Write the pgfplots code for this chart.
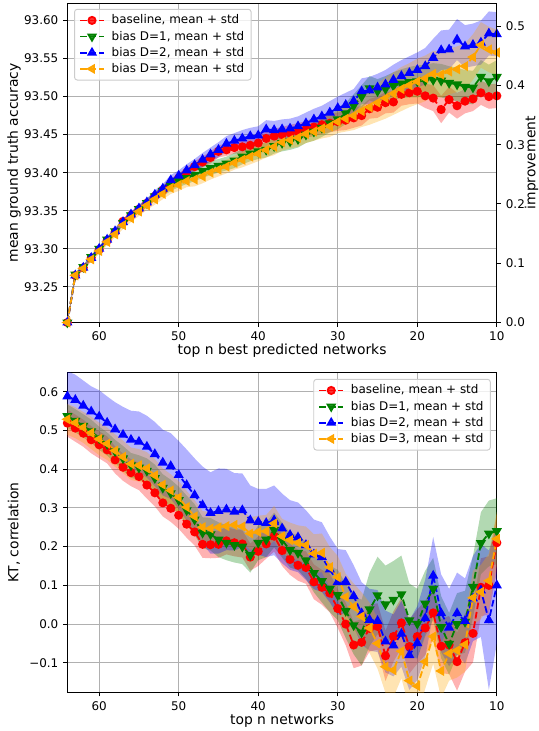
\documentclass[border=0pt]{standalone}
\usepackage{fontspec}
\setmainfont{DejaVu Sans}
\usepackage{pgfplots}
\pgfplotsset{compat=1.18}
\usepackage{pgfplotstable}
\usepgfplotslibrary{fillbetween}

\definecolor{mplorange}{HTML}{FFA500}
\definecolor{mplgreen}{HTML}{008000}
\definecolor{mplred}{HTML}{FF0000}
\definecolor{mplblue}{HTML}{0000FF}
\definecolor{gridgray}{HTML}{B0B0B0}
\definecolor{legedge}{HTML}{CCCCCC}

% x r rs g gs b bs o os  (mean and std of each series)
\pgfplotstableread{
x r rs g gs b bs o os
64 93.203 .003 93.203 .003 93.203 .003 93.203 .003
63 93.265 .003 93.266 .003 93.265 .003 93.265 .003
62 93.275 .003 93.276 .003 93.275 .003 93.274 .003
61 93.288 .003 93.289 .003 93.288 .003 93.286 .003
60 93.299 .003 93.300 .003 93.300 .003 93.297 .004
59 93.311 .004 93.312 .004 93.312 .004 93.309 .004
58 93.322 .004 93.323 .004 93.323 .004 93.319 .004
57 93.336 .004 93.334 .004 93.335 .004 93.331 .005
56 93.344 .004 93.344 .004 93.345 .004 93.340 .005
55 93.352 .005 93.352 .005 93.353 .005 93.349 .006
54 93.360 .005 93.360 .006 93.361 .005 93.357 .006
53 93.369 .005 93.369 .006 93.371 .006 93.365 .007
52 93.377 .006 93.376 .007 93.379 .006 93.372 .007
51 93.386 .006 93.383 .007 93.390 .007 93.380 .008
50 93.393 .006 93.389 .008 93.396 .007 93.384 .008
49 93.400 .007 93.393 .008 93.403 .008 93.389 .008
48 93.408 .007 93.397 .008 93.410 .008 93.391 .009
47 93.414 .007 93.402 .009 93.417 .009 93.395 .009
46 93.420 .008 93.406 .009 93.424 .009 93.400 .009
45 93.428 .008 93.409 .009 93.430 .010 93.404 .009
44 93.430 .008 93.412 .009 93.438 .010 93.408 .009
43 93.433 .008 93.416 .010 93.442 .010 93.413 .009
42 93.434 .009 93.421 .010 93.445 .011 93.417 .010
41 93.436 .009 93.425 .010 93.448 .011 93.421 .010
40 93.439 .009 93.428 .010 93.449 .012 93.425 .010
39 93.445 .010 93.430 .010 93.457 .012 93.430 .010
38 93.448 .010 93.435 .010 93.456 .012 93.434 .011
37 93.450 .010 93.439 .011 93.457 .013 93.440 .011
36 93.452 .011 93.441 .011 93.458 .013 93.443 .011
35 93.454 .011 93.444 .011 93.461 .013 93.446 .012
34 93.457 .011 93.450 .011 93.465 .014 93.451 .012
33 93.460 .012 93.454 .012 93.470 .014 93.454 .012
32 93.463 .012 93.459 .012 93.474 .014 93.458 .013
31 93.465 .012 93.465 .012 93.479 .015 93.461 .014
30 93.467 .012 93.470 .013 93.485 .015 93.467 .015
29 93.469 .013 93.478 .014 93.489 .016 93.471 .017
28 93.472 .013 93.488 .015 93.494 .016 93.475 .019
27 93.475 .013 93.500 .015 93.507 .017 93.481 .021
26 93.484 .013 93.511 .016 93.508 .018 93.486 .023
25 93.486 .014 93.507 .016 93.512 .018 93.492 .025
24 93.492 .014 93.510 .017 93.516 .019 93.498 .027
23 93.493 .014 93.514 .018 93.522 .020 93.504 .028
22 93.503 .015 93.517 .019 93.527 .021 93.510 .029
21 93.505 .015 93.519 .020 93.531 .022 93.515 .029
20 93.507 .016 93.520 .021 93.535 .023 93.520 .030
19 93.501 .016 93.521 .021 93.540 .024 93.524 .030
18 93.498 .017 93.522 .022 93.551 .025 93.530 .030
17 93.483 .018 93.521 .022 93.561 .026 93.529 .030
16 93.496 .017 93.518 .022 93.562 .026 93.533 .030
15 93.488 .017 93.516 .022 93.575 .027 93.536 .030
14 93.494 .016 93.513 .022 93.566 .028 93.540 .030
13 93.497 .016 93.512 .022 93.568 .028 93.552 .030
12 93.505 .016 93.526 .022 93.571 .029 93.568 .030
11 93.500 .016 93.520 .022 93.583 .029 93.562 .030
10 93.501 .016 93.526 .022 93.582 .029 93.558 .030
}\topdata

\pgfplotstableread{
x r rs g gs b bs o os
64 0.519 .035 0.537 .030 0.588 .065 0.529 .040
63 0.506 .035 0.525 .030 0.579 .065 0.520 .040
62 0.493 .035 0.512 .030 0.564 .065 0.508 .040
61 0.476 .035 0.498 .030 0.549 .065 0.494 .042
60 0.463 .035 0.480 .030 0.536 .068 0.478 .042
59 0.450 .035 0.465 .030 0.520 .068 0.466 .042
58 0.424 .035 0.446 .030 0.503 .070 0.448 .042
57 0.405 .035 0.428 .032 0.489 .072 0.432 .042
56 0.391 .035 0.410 .032 0.476 .075 0.414 .042
55 0.381 .035 0.404 .032 0.471 .078 0.410 .042
54 0.359 .035 0.396 .032 0.458 .080 0.402 .042
53 0.339 .035 0.377 .035 0.439 .083 0.384 .042
52 0.313 .035 0.352 .035 0.417 .085 0.360 .042
51 0.299 .035 0.338 .035 0.408 .085 0.345 .042
50 0.281 .035 0.320 .035 0.385 .088 0.327 .042
49 0.258 .035 0.294 .038 0.359 .092 0.302 .042
48 0.238 .035 0.270 .040 0.333 .095 0.278 .042
47 0.206 .035 0.236 .040 0.307 .100 0.250 .042
46 0.205 .035 0.232 .042 0.287 .105 0.247 .042
45 0.206 .035 0.218 .045 0.292 .110 0.250 .042
44 0.215 .035 0.210 .045 0.296 .105 0.253 .042
43 0.210 .035 0.204 .045 0.290 .100 0.256 .042
42 0.207 .035 0.200 .045 0.294 .095 0.252 .042
41 0.173 .035 0.178 .045 0.268 .090 0.234 .042
40 0.188 .038 0.210 .045 0.264 .085 0.238 .042
39 0.207 .038 0.218 .045 0.261 .088 0.240 .042
38 0.227 .040 0.243 .045 0.268 .090 0.260 .045
37 0.190 .040 0.217 .045 0.247 .090 0.227 .045
36 0.167 .040 0.191 .045 0.230 .090 0.217 .045
35 0.152 .040 0.184 .045 0.224 .090 0.210 .045
34 0.146 .042 0.165 .048 0.204 .090 0.204 .048
33 0.109 .045 0.132 .050 0.180 .090 0.182 .050
32 0.095 .045 0.111 .055 0.173 .090 0.184 .050
31 0.080 .050 0.091 .060 0.141 .085 0.147 .052
30 0.040 .050 0.075 .065 0.109 .085 0.121 .055
29 0.000 .055 0.034 .070 0.109 .082 0.070 .060
28 -0.054 .060 -0.003 .075 0.072 .080 0.045 .060
27 -0.047 .060 -0.022 .085 0.028 .080 0.020 .062
26 -0.011 .060 0.038 .095 0.011 .080 -0.010 .065
25 -0.006 .060 0.074 .100 0.008 .080 -0.050 .065
24 -0.082 .065 0.051 .100 -0.045 .080 -0.110 .068
23 -0.032 .065 0.063 .100 -0.055 .080 -0.119 .070
22 0.003 .065 0.077 .100 -0.025 .085 -0.070 .070
21 -0.058 .070 0.010 .095 -0.080 .090 -0.146 .070
20 -0.032 .070 0.001 .090 -0.049 .095 -0.160 .070
19 -0.010 .070 0.053 .085 0.015 .100 -0.097 .070
18 0.029 .070 0.091 .080 0.125 .100 -0.032 .070
17 -0.057 .070 -0.008 .080 0.028 .100 -0.121 .070
16 -0.054 .075 -0.051 .080 -0.009 .100 -0.076 .070
15 -0.097 .075 0.000 .080 0.028 .105 -0.068 .070
14 -0.048 .075 0.006 .080 0.008 .110 -0.053 .070
13 -0.024 .075 0.096 .080 0.066 .110 0.068 .070
12 0.095 .075 0.209 .080 0.087 .120 0.083 .070
11 0.100 .075 0.234 .085 0.010 .180 0.112 .070
10 0.210 .075 0.240 .085 0.100 .150 0.220 .070
}\botdata

% #1 table, #2 mean column, #3 std column, #4 colour, #5 unique name
\newcommand{\band}[5]{%
  \addplot[draw=none, forget plot, name path=#5u] table[x=x, y expr=\thisrow{#2}+\thisrow{#3}] {#1};
  \addplot[draw=none, forget plot, name path=#5l] table[x=x, y expr=\thisrow{#2}-\thisrow{#3}] {#1};
  \addplot[fill=#4, fill opacity=0.3, draw=none, forget plot] fill between[of=#5u and #5l];
}

\newcommand{\mplfont}{\fontsize{8.6}{10.3}\selectfont}

\pgfplotsset{
  mplaxis/.style={
    scale only axis, width=309.2pt, height=230pt,
    xmin=10, xmax=64, x dir=reverse,
    xtick={10,20,30,40,50,60},
    tick align=outside, major tick length=3pt,
    tick style={black, line width=0.69pt},
    axis line style={line width=0.69pt},
    grid=major, major grid style={gridgray, line width=0.69pt},
    xtick pos=bottom, ytick pos=left,
    /pgf/number format/assume math mode=true,
    tick label style={font=\mplfont},
    label style={font=\mplfont},
    every axis y label/.style={at={(axis description cs:0,0.5)}, xshift=-38.4pt, anchor=center, rotate=90},
    every axis x label/.style={at={(axis description cs:0.5,0)}, yshift=-20.6pt, anchor=center},
    legend cell align=left,
    legend style={draw=legedge, fill=white, fill opacity=0.8, text opacity=1,
      rounded corners=2pt, font=\mplfont, line width=0.69pt,
      inner xsep=3.4pt, inner ysep=2.4pt, row sep=0.4pt,
      nodes={inner xsep=1.5pt, inner ysep=1.6pt},
      /tikz/every odd column/.append style={column sep=3.5pt}},
  },
  mplline/.style={line width=1.29pt, dash pattern=on 4.8pt off 2.06pt},
  sr/.style={mplline, color=mplred, mark=*, mark size=2.6pt, mark options={solid}},
  sg/.style={mplline, color=mplgreen, mark=triangle*, mark size=2.95pt, mark options={solid, rotate=180}},
  sb/.style={mplline, color=mplblue, mark=triangle*, mark size=2.95pt, mark options={solid}},
  so/.style={mplline, color=mplorange, mark=triangle*, mark size=2.95pt, mark options={solid, rotate=90}},
}

\begin{document}
\begin{tikzpicture}

% ---------- top panel ----------
\begin{axis}[mplaxis, at={(0pt,266.2pt)},
  ymin=93.203, ymax=93.623,
  ytick={93.25,93.3,93.35,93.4,93.45,93.5,93.55,93.6},
  yticklabels={93.25,93.30,93.35,93.40,93.45,93.50,93.55,93.60},
  xticklabels={10,20,30,40,50,60},
  xlabel={top n best predicted networks},
  ylabel={mean ground truth accuracy},
  legend style={at={(0.0156,0.982)}, anchor=north west},
]
\band{\topdata}{r}{rs}{mplred}{tr}
\band{\topdata}{g}{gs}{mplgreen}{tg}
\band{\topdata}{b}{bs}{mplblue}{tb}
\band{\topdata}{o}{os}{mplorange}{to}
\addplot[sr] table[x=x, y=r] {\topdata};
\addplot[sg] table[x=x, y=g] {\topdata};
\addplot[sb] table[x=x, y=b] {\topdata};
\addplot[so] table[x=x, y=o] {\topdata};
\legend{baseline{,} mean + std, bias D=1{,} mean + std, bias D=2{,} mean + std, bias D=3{,} mean + std}
\end{axis}

\begin{axis}[scale only axis, width=309.2pt, height=230pt, at={(0pt,266.2pt)},
  xmin=10, xmax=64, x dir=reverse,
  ymin=0, ymax=0.539,
  axis x line=none, axis y line*=right,
  axis line style={line width=0.69pt, -},
  ytick={0,0.1,0.2,0.3,0.4,0.5},
  yticklabels={0.0,0.1,0.2,0.3,0.4,0.5},
  tick align=outside, major tick length=3pt,
  tick style={black, line width=0.69pt},
  /pgf/number format/assume math mode=true,
  tick label style={font=\mplfont},
  label style={font=\mplfont},
  every axis y label/.style={at={(axis description cs:1,0.5)}, xshift=25pt, anchor=center, rotate=90},
  ylabel={improvement},
]
\addplot[draw=none, mark=none] coordinates {(10,0.1) (64,0.2)};
\end{axis}

% ---------- bottom panel ----------
\begin{axis}[mplaxis, at={(0pt,0pt)},
  ymin=-0.176, ymax=0.649,
  ytick={-0.1,0,0.1,0.2,0.3,0.4,0.5,0.6},
  yticklabels={−0.1,0.0,0.1,0.2,0.3,0.4,0.5,0.6},
  xticklabels={10,20,30,40,50,60},
  xlabel={top n networks},
  ylabel={KT, correlation},
  legend style={at={(0.986,0.981)}, anchor=north east},
]
\band{\botdata}{r}{rs}{mplred}{br}
\band{\botdata}{g}{gs}{mplgreen}{bg}
\band{\botdata}{b}{bs}{mplblue}{bb}
\band{\botdata}{o}{os}{mplorange}{bo}
\addplot[sr] table[x=x, y=r] {\botdata};
\addplot[sg] table[x=x, y=g] {\botdata};
\addplot[sb] table[x=x, y=b] {\botdata};
\addplot[so] table[x=x, y=o] {\botdata};
\legend{baseline{,} mean + std, bias D=1{,} mean + std, bias D=2{,} mean + std, bias D=3{,} mean + std}
\end{axis}
\pgfresetboundingbox
\path[use as bounding box] (-48.5pt,-27.9pt) rectangle (338.9pt,498.4pt);
\end{tikzpicture}
\end{document}
